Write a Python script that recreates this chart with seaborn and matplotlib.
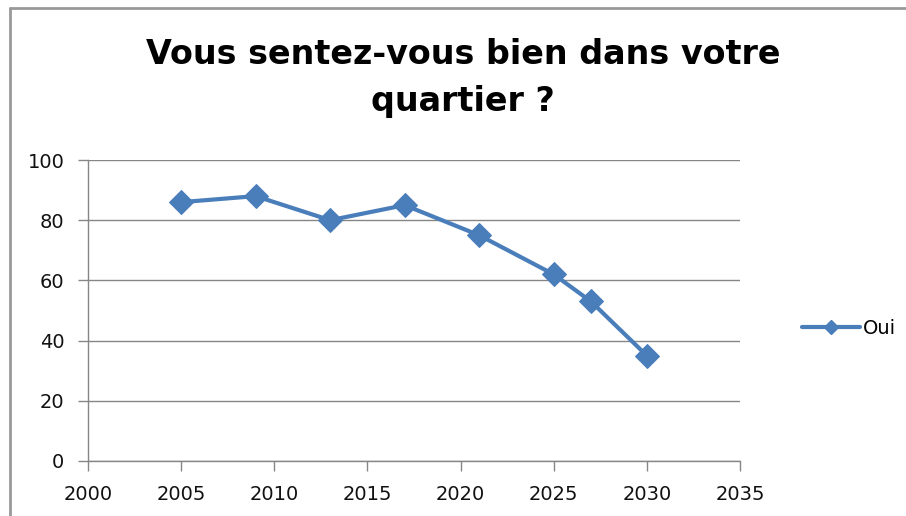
import matplotlib
matplotlib.use("Agg")
import matplotlib.pyplot as plt
from matplotlib.lines import Line2D
import pandas as pd
import seaborn as sns

# Données
annees = [2005, 2009, 2013, 2017, 2021, 2025, 2027, 2030]
oui = [86, 88, 80, 85, 75, 62, 53, 35]
x_ticks = [2000, 2005, 2010, 2015, 2020, 2025, 2030, 2035]
y_ticks = [0, 20, 40, 60, 80, 100]
serie = "Oui"
titre = "Vous sentez-vous bien dans votre\nquartier ?"

df = pd.DataFrame({"annee": annees, "valeur": oui})

sns.set_style("white")
plt.rcParams["font.family"] = ["DejaVu Sans"]
plt.rcParams["text.color"] = "black"

bleu = "#4A7EBB"
gris = "#868686"

fig = plt.figure(figsize=(9.06, 5.16), dpi=100)
ax = fig.add_axes([88 / 906, 1 - 461 / 516, (740 - 88) / 906, (461 - 160) / 516])

sns.lineplot(data=df, x="annee", y="valeur", ax=ax, color=bleu,
             linewidth=3, marker="D", markersize=12,
             markeredgecolor=bleu, markerfacecolor=bleu)

ax.set_xlim(2000, 2035)
ax.set_ylim(0, 100)
ax.set_xticks(x_ticks)
ax.set_yticks(y_ticks)
ax.set_xlabel("")
ax.set_ylabel("")
ax.grid(axis="y", color=gris, linewidth=1)
ax.set_axisbelow(True)
for s in ["top", "right"]:
    ax.spines[s].set_visible(False)
for s in ["left", "bottom"]:
    ax.spines[s].set_color(gris)
    ax.spines[s].set_linewidth(1)
ax.tick_params(axis="both", direction="out", length=7, width=1, color=gris,
               labelsize=14, labelcolor="#111111", bottom=True, left=True)
ax.tick_params(axis="x", pad=10)
ax.tick_params(axis="y", pad=10)

# titre
fig.text(463 / 906, 1 - 78 / 516, titre, ha="center", va="center",
         fontsize=24, fontweight="bold", linespacing=1.55, color="black")

# légende
poignee = Line2D([], [], color=bleu, linewidth=3, marker="D",
                 markersize=7, markerfacecolor=bleu, markeredgecolor=bleu)
fig.legend([poignee], [serie], loc="center left",
           bbox_to_anchor=(784 / 906, 1 - 328 / 516), frameon=False,
           fontsize=14, handlelength=3.0, handletextpad=0.15)

# bordure du cadre
fig.add_artist(Line2D([10 / 906, 10 / 906], [0, 1 - 8 / 516],
                      transform=fig.transFigure, color="#999999", linewidth=2))
fig.add_artist(Line2D([10 / 906, 1], [1 - 8 / 516, 1 - 8 / 516],
                      transform=fig.transFigure, color="#999999", linewidth=2))

fig.savefig("out.png", dpi=100)
